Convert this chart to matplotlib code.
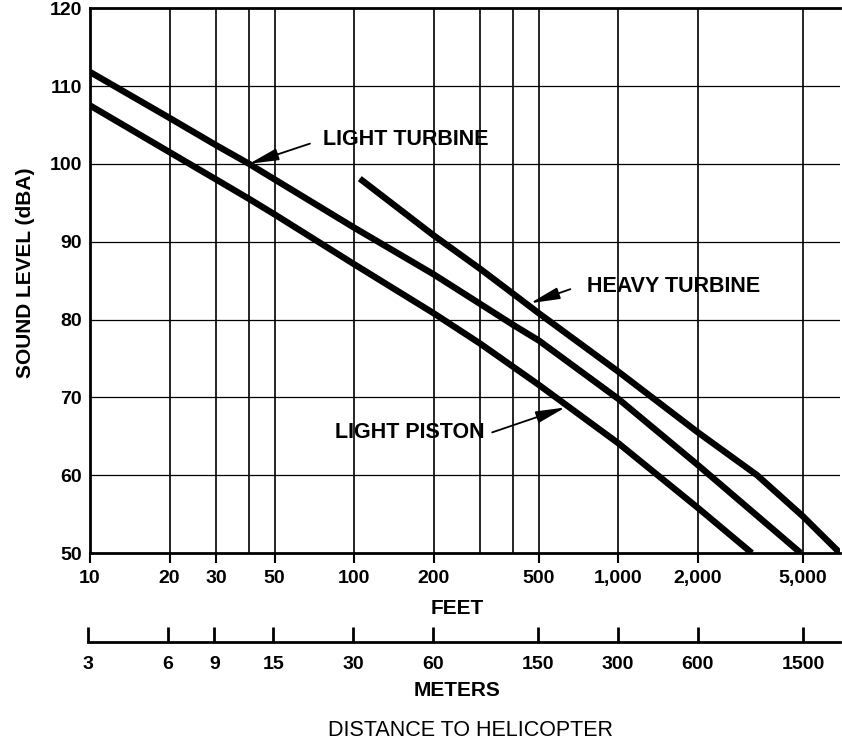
import matplotlib.pyplot as plt
from matplotlib.ticker import FixedLocator, NullFormatter

# Distance in feet and sound level in dBA
light_turbine_ft = [10, 20, 30, 40, 50, 100, 200, 300, 400, 500, 1000, 2000, 4900]
light_turbine_db = [111.8, 105.9, 102.4, 100.0, 98.0, 91.8, 85.8, 82.0, 79.3, 77.3, 69.8, 61.3, 50.0]

light_piston_ft = [10, 20, 30, 40, 50, 100, 200, 300, 500, 1000, 2000, 3200]
light_piston_db = [107.5, 101.5, 98.0, 95.5, 93.5, 87.1, 80.8, 76.9, 71.6, 64.1, 55.8, 50.0]

heavy_turbine_ft = [105, 200, 300, 400, 500, 1000, 2000, 3350, 5000, 6900]
heavy_turbine_db = [98.1, 90.8, 86.5, 83.3, 80.8, 73.3, 65.5, 60.0, 54.7, 50.0]

feet_ticks = [10, 20, 30, 50, 100, 200, 500, 1000, 2000, 5000]
feet_labels = ['10', '20', '30', '50', '100', '200', '500', '1,000', '2,000', '5,000']
feet_grid = [20, 30, 40, 50, 100, 200, 300, 400, 500, 1000, 2000, 5000]

meter_ticks = [3, 6, 9, 15, 30, 60, 150, 300, 600, 1500]
meter_labels = ['3', '6', '9', '15', '30', '60', '150', '300', '600', '1500']

level_ticks = [50, 60, 70, 80, 90, 100, 110, 120]

FT_MIN, FT_MAX = 10, 6900
FT_TO_M = 0.3

FONT = ['Liberation Sans', 'DejaVu Sans']


def main() -> None:
    plt.rcParams['font.family'] = FONT
    fig = plt.figure(figsize=(8.42, 7.44), dpi=100)
    ax = fig.add_axes([0.1069, 0.2567, 0.8907, 0.7323])

    ax.set_xscale('log')
    ax.set_xlim(FT_MIN, FT_MAX)
    ax.set_ylim(50, 120)

    for x in feet_grid:
        ax.axvline(x, color='black', lw=1.2, zorder=1)
    for y in level_ticks[1:-1]:
        ax.axhline(y, color='black', lw=0.9, zorder=1)

    for xs, ys in [
        (light_turbine_ft, light_turbine_db),
        (light_piston_ft, light_piston_db),
        (heavy_turbine_ft, heavy_turbine_db),
    ]:
        ax.plot(xs, ys, color='black', lw=4.6, solid_capstyle='butt',
                solid_joinstyle='round', zorder=3)

    ax.xaxis.set_major_locator(FixedLocator(feet_ticks))
    ax.xaxis.set_minor_locator(FixedLocator([]))
    ax.xaxis.set_minor_formatter(NullFormatter())
    ax.set_xticklabels(feet_labels)
    ax.tick_params(axis='x', direction='out', length=7, width=1.5, pad=5,
                   labelsize=14)
    ax.set_yticks(level_ticks)
    ax.tick_params(axis='y', length=0, pad=6, labelsize=14)
    for lbl in ax.get_xticklabels() + ax.get_yticklabels():
        lbl.set_fontweight('bold')

    for side in ['left', 'bottom', 'top']:
        ax.spines[side].set_linewidth(2)
    ax.spines['right'].set_visible(False)

    ax.set_ylabel('SOUND LEVEL (dBA)', fontsize=15, fontweight='bold')
    ax.yaxis.set_label_coords(-0.074, 0.515)

    arrow = dict(arrowstyle='-|>,head_length=1.5,head_width=0.3', color='black',
                 lw=1.3, shrinkA=0, shrinkB=0, mutation_scale=12)
    ax.annotate('', xy=(40, 100.0), xytext=(68, 102.6), arrowprops=arrow, zorder=4)
    ax.text(76, 103.1, 'LIGHT TURBINE', fontsize=15.5, fontweight='bold',
            ha='left', va='center')
    ax.annotate('', xy=(464, 82.1), xytext=(658, 83.9), arrowprops=arrow, zorder=4)
    ax.text(763, 84.2, 'HEAVY TURBINE', fontsize=15.5, fontweight='bold',
            ha='left', va='center')
    ax.annotate('', xy=(630, 68.7), xytext=(333, 65.5), arrowprops=arrow, zorder=4)
    ax.text(84.7, 65.5, 'LIGHT PISTON', fontsize=15.5, fontweight='bold',
            ha='left', va='center')

    fig.text(457 / 842, 1 - 609 / 744, 'FEET', fontsize=15, fontweight='bold',
             ha='center', va='center')

    # second scale in meters under the feet axis
    m_ax = fig.add_axes([0.1045, 1 - 642 / 744, 0.8931, 0.0001])
    m_ax.set_xscale('log')
    m_ax.set_xlim(FT_MIN * FT_TO_M, FT_MAX * FT_TO_M)
    m_ax.set_yticks([])
    for side in ['left', 'right', 'top']:
        m_ax.spines[side].set_visible(False)
    m_ax.spines['bottom'].set_linewidth(2)
    m_ax.xaxis.set_major_locator(FixedLocator(meter_ticks))
    m_ax.xaxis.set_minor_locator(FixedLocator([]))
    m_ax.set_xticklabels(meter_labels)
    m_ax.tick_params(axis='x', direction='in', length=11, width=2, pad=10,
                     labelsize=14)
    for lbl in m_ax.get_xticklabels():
        lbl.set_fontweight('bold')

    fig.text(457 / 842, 1 - 691 / 744, 'METERS', fontsize=15, fontweight='bold',
             ha='center', va='center')
    fig.text(470 / 842, 1 - 730 / 744, 'DISTANCE TO HELICOPTER', fontsize=15.5,
             ha='center', va='center')

    fig.savefig('out.png', dpi=100)
    plt.close(fig)


if __name__ == '__main__':
    main()
